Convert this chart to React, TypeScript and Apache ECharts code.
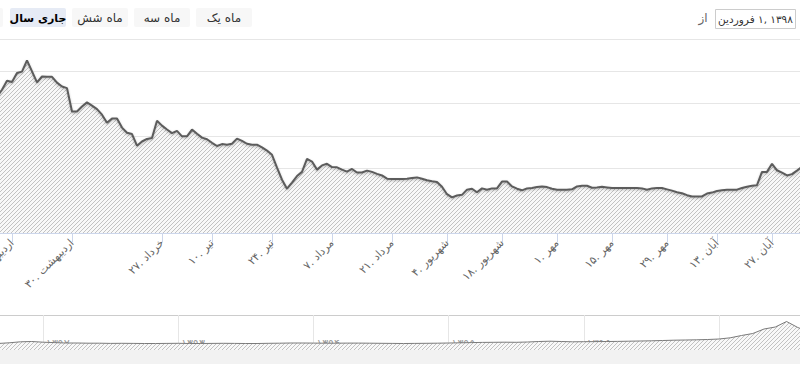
import React, { useEffect, useRef } from 'react';
import * as echarts from 'echarts';

const FONT = '"DejaVu Sans", "Noto Sans", sans-serif';
// the reference lays the words out left to right: one rich-text token per word
const words = (s: string, key: string) => s.split(' ').map((w) => `{${key}|${w}}`).join(' ');
const toFa = (n: number) => String(n).replace(/\d/g, (d) => '۰۱۲۳۴۵۶۷۸۹'[Number(d)]);

// main series: one value per trading day
const mainValues = [
  4220, 4430, 4710, 4670, 4950, 4990, 5340, 5000, 4660, 4840,
  4830, 4830, 4650, 4530, 4480, 3760, 3760, 3910, 4040, 3940,
  3830, 3660, 3410, 3540, 3540, 3260, 3100, 3060, 2700, 2830,
  2910, 2940, 3470, 3320, 3200, 3090, 3160, 2990, 2990, 3200,
  3070, 2950, 2900, 2790, 2690, 2750, 2730, 2760, 2920, 2850,
  2760, 2730, 2730, 2650, 2550, 2420, 2020, 1650, 1370, 1560,
  1760, 1890, 2290, 2210, 1960, 2090, 2140, 2040, 2030, 1960,
  1900, 1980, 1870, 1870, 1930, 1890, 1830, 1780, 1680, 1670,
  1670, 1670, 1680, 1700, 1720, 1680, 1630, 1600, 1580, 1430,
  1200, 1100, 1160, 1180, 1340, 1370, 1260, 1380, 1340, 1380,
  1380, 1590, 1590, 1440, 1370, 1320, 1380, 1390, 1420, 1440,
  1420, 1370, 1340, 1340, 1340, 1350, 1440, 1460, 1460, 1400,
  1410, 1430, 1410, 1390, 1390, 1390, 1390, 1390, 1390, 1380,
  1340, 1380, 1390, 1390, 1350, 1310, 1260, 1230, 1170, 1130,
  1130, 1130, 1220, 1250, 1300, 1320, 1340, 1340, 1340, 1390,
  1430, 1460, 1480, 1890, 1890, 2140, 1940, 1870, 1780, 1820,
  1930, 2050,
];
const tradingDays = mainValues.map((_, i) => String(i));

// x-axis ticks: trading-day index and its label
const tickDays = [3, 15, 33, 43, 55, 67, 79, 90, 101, 112, 123, 134, 144, 155];
const tickLabels = [
  '۱۶. اردیبهشت', '۳۰. اردیبهشت', '۲۷. خرداد', '۱۰. تیر', '۲۴. تیر',
  '۷. مرداد', '۲۱. مرداد', '۴. شهریور', '۱۸. شهریور', '۱. مهر',
  '۱۵. مهر', '۲۹. مهر', '۱۳. آبان', '۲۷. آبان',
];

// navigator: one value per month, starting with Azar 1391
const navValues = [
  1300, 1440, 1640, 1700, 1560, 1480, 1400, 1400, 1360, 1360,
  1320, 1340, 1320, 1300, 1300, 1320, 1340, 1300, 1300, 1320,
  1340, 1320, 1300, 1300, 1340, 1360, 1400, 1400, 1380, 1360,
  1360, 1380, 1380, 1360, 1340, 1320, 1300, 1320, 1340, 1360,
  1400, 1440, 1480, 1520, 1540, 1560, 1540, 1600, 1700, 1760,
  1700, 1640, 1660, 1680, 1700, 1720, 1760, 1800, 1840, 1900,
  1960, 2000, 2040, 2100, 2200, 2440, 2900, 3300, 4200, 4600,
  5700, 4500, 3600,
];
const navYears = [1392, 1393, 1394, 1395, 1396, 1397];
const navMonthsBeforeFirstYear = 4;
const navMonths = navValues.map((_, j) => String(j));

const rangeButtons = ['سال جاری', 'شش ماه', 'سه ماه', 'یک ماه'];
const selectedButton = 'سال جاری';
const fromLabel = 'از';
const fromDate = 'فروردین ۱, ۱۳۹۸';

function makeHatch(): HTMLCanvasElement {
  const c = document.createElement('canvas');
  c.width = 4;
  c.height = 4;
  const g = c.getContext('2d')!;
  g.fillStyle = '#f8f8f8';
  g.fillRect(0, 0, 4, 4);
  g.strokeStyle = '#c2c2c2';
  g.lineWidth = 1;
  g.beginPath();
  g.moveTo(0, 4);
  g.lineTo(4, 0);
  g.moveTo(-1, 1);
  g.lineTo(1, -1);
  g.moveTo(3, 5);
  g.lineTo(5, 3);
  g.stroke();
  return c;
}

// words of a text placed one after another from left to right, centred on cx
function wordRow(
  text: string,
  cx: number,
  cy: number,
  size: number,
  weight: string,
  fill: string,
): any[] {
  const ctx = document.createElement('canvas').getContext('2d')!;
  ctx.font = `${weight} ${size}px ${FONT}`;
  const ws = text.split(' ');
  const widths = ws.map((w) => ctx.measureText(w).width);
  const space = ctx.measureText(' ').width;
  const total = widths.reduce((a, b) => a + b, 0) + space * (ws.length - 1);
  let x = cx - total / 2;
  return ws.map((w, i) => {
    const el = {
      type: 'text',
      x,
      y: cy,
      style: {
        text: w,
        align: 'left',
        verticalAlign: 'middle',
        fill,
        fontSize: size,
        fontWeight: weight,
        fontFamily: FONT,
      },
    };
    x += widths[i] + space;
    return el;
  });
}

export default function App() {
  const ref = useRef<HTMLDivElement>(null);

  useEffect(() => {
    document.body.style.margin = '0';
    if (!ref.current) return;
    const chart = echarts.init(ref.current, undefined, { renderer: 'svg' });
    const hatch = makeHatch();

    const labelMap: Record<string, string> = {};
    tickDays.forEach((d, k) => {
      labelMap[String(d)] = words(tickLabels[k], 'w');
    });
    const isTick = (i: number) => tickDays.indexOf(i) >= 0;
    const isYear = (j: number) => j >= navMonthsBeforeFirstYear && (j - navMonthsBeforeFirstYear) % 12 === 0;

    const graphic: any[] = [];
    // partially visible button at the left edge
    graphic.push({
      type: 'rect',
      shape: { x: -53, y: 8, width: 56, height: 19, r: 2 },
      style: { fill: '#f7f7f7' },
    });
    rangeButtons.forEach((b, k) => {
      const x = 10 + k * 62;
      const sel = b === selectedButton;
      graphic.push({
        type: 'rect',
        shape: { x, y: 8, width: 56, height: 19, r: 2 },
        style: { fill: sel ? '#e6ebf5' : '#f7f7f7' },
      });
      graphic.push(...wordRow(b, x + 28, 18, sel ? 11 : 12, sel ? 'bold' : 'normal', sel ? '#000000' : '#333333'));
    });
    graphic.push({
      type: 'text',
      x: 703,
      y: 18,
      style: { text: fromLabel, align: 'center', verticalAlign: 'middle', fill: '#666666', fontSize: 12, fontFamily: FONT },
    });
    graphic.push({
      type: 'rect',
      shape: { x: 715.5, y: 9.5, width: 80, height: 19 },
      style: { fill: '#ffffff', stroke: '#cccccc', lineWidth: 1 },
    });
    graphic.push(...wordRow(fromDate, 755.5, 19, 10.5, 'normal', '#333333'));
    // scrollbar track and navigator outline
    graphic.push({
      type: 'rect',
      shape: { x: 0, y: 350, width: 800, height: 14 },
      style: { fill: '#f2f2f2' },
    });
    graphic.push({
      type: 'line',
      shape: { x1: 0, y1: 315.5, x2: 800, y2: 315.5 },
      style: { stroke: '#cccccc', lineWidth: 1 },
    });

    chart.setOption({
      animation: false,
      textStyle: { fontFamily: FONT },
      grid: [
        { left: -3, right: -2, top: 39, bottom: 135, outerBoundsMode: 'none', containLabel: false },
        { left: -2.07, right: -9.1, top: 315, height: 35, outerBoundsMode: 'none', containLabel: false },
      ],
      xAxis: [
        {
          type: 'category',
          gridIndex: 0,
          data: tradingDays,
          boundaryGap: false,
          axisLine: { lineStyle: { color: '#ccd6eb', width: 1 } },
          axisTick: {
            show: true,
            length: 9,
            interval: (i: number) => isTick(i),
            lineStyle: { color: '#ccd6eb' },
          },
          axisLabel: {
            interval: (i: number) => isTick(i),
            formatter: (v: string) => labelMap[v] || '',
            rotate: 45,
            margin: 8,
            color: '#666666',
            fontSize: 11,
            fontFamily: FONT,
            rich: { w: { color: '#666666', fontSize: 11, fontFamily: FONT } },
          },
          splitLine: { show: false },
        },
        {
          type: 'category',
          gridIndex: 1,
          data: navMonths,
          boundaryGap: false,
          axisLine: { show: false },
          axisTick: { show: false },
          axisLabel: {
            inside: true,
            interval: (j: number) => isYear(j),
            formatter: (v: string) => {
              const j = Number(v);
              return isYear(j) ? toFa(navYears[(j - navMonthsBeforeFirstYear) / 12]) : '';
            },
            align: 'left',
            verticalAlign: 'bottom',
            margin: 1,
            padding: [0, 0, 0, 3],
            color: '#999999',
            fontSize: 11,
            fontFamily: FONT,
          },
          splitLine: {
            show: true,
            interval: (j: number) => isYear(j),
            lineStyle: { color: '#e6e6e6', width: 1 },
          },
        },
      ],
      yAxis: [
        {
          type: 'value',
          gridIndex: 0,
          min: 0,
          max: 6000,
          interval: 1000,
          axisLabel: { show: false },
          axisLine: { show: false },
          axisTick: { show: false },
          splitLine: { show: true, lineStyle: { color: '#e6e6e6', width: 1 } },
        },
        { type: 'value', gridIndex: 1, min: 0, max: 7000, show: false },
      ],
      series: [
        {
          type: 'line',
          xAxisIndex: 0,
          yAxisIndex: 0,
          data: mainValues,
          symbol: 'none',
          showSymbol: false,
          silent: true,
          lineStyle: {
            color: '#5c5c5c',
            width: 2,
            shadowColor: 'rgba(0,0,0,0.25)',
            shadowBlur: 2,
            shadowOffsetY: 1,
          },
          areaStyle: { color: { image: hatch, repeat: 'repeat' }, opacity: 1 },
        },
        {
          type: 'line',
          xAxisIndex: 1,
          yAxisIndex: 1,
          data: navValues,
          symbol: 'none',
          showSymbol: false,
          silent: true,
          lineStyle: { color: '#7a7a7a', width: 1 },
          areaStyle: { color: { image: hatch, repeat: 'repeat' }, opacity: 1 },
        },
      ],
      graphic,
    });

    return () => {
      chart.dispose();
    };
  }, []);

  return <div ref={ref} style={{ width: 800, height: 368 }} />;
}
